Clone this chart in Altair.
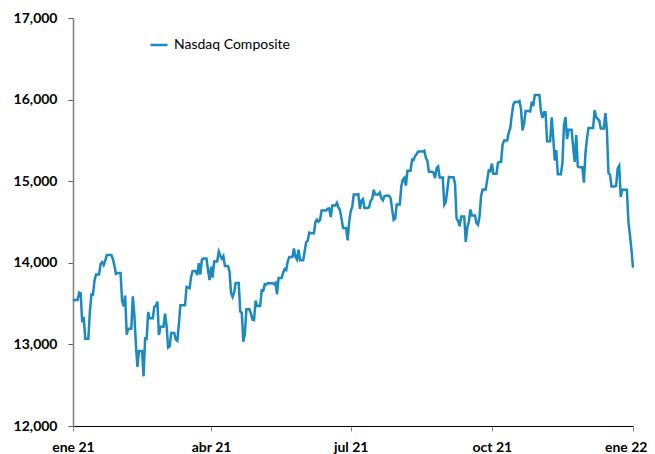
import altair as alt
import pandas as pd

series_name = "Nasdaq Composite"

jan21 = [("2021-01-21", 13530), ("2021-01-22", 13543), ("2021-01-25", 13635), ("2021-01-26", 13626),
         ("2021-01-27", 13271), ("2021-01-28", 13337), ("2021-01-29", 13070)]
feb21 = [("2021-02-01", 13403), ("2021-02-02", 13612), ("2021-02-03", 13610), ("2021-02-04", 13778),
         ("2021-02-05", 13856), ("2021-02-08", 13987), ("2021-02-09", 14007), ("2021-02-10", 13973),
         ("2021-02-11", 14025), ("2021-02-12", 14095), ("2021-02-16", 14047), ("2021-02-17", 13965),
         ("2021-02-18", 13865), ("2021-02-19", 13874), ("2021-02-22", 13533), ("2021-02-23", 13465),
         ("2021-02-24", 13598), ("2021-02-25", 13119), ("2021-02-26", 13192)]
mar21 = [("2021-03-01", 13589), ("2021-03-02", 13359), ("2021-03-03", 12998), ("2021-03-04", 12723),
         ("2021-03-05", 12920), ("2021-03-08", 12609), ("2021-03-09", 13073), ("2021-03-10", 13069),
         ("2021-03-11", 13398), ("2021-03-12", 13320), ("2021-03-15", 13460), ("2021-03-16", 13471),
         ("2021-03-17", 13525), ("2021-03-18", 13116), ("2021-03-19", 13215), ("2021-03-22", 13377),
         ("2021-03-23", 13227), ("2021-03-24", 12962), ("2021-03-25", 12977), ("2021-03-26", 13139),
         ("2021-03-29", 13060), ("2021-03-30", 13045), ("2021-03-31", 13247)]
apr21 = [("2021-04-01", 13480), ("2021-04-05", 13705), ("2021-04-06", 13698), ("2021-04-07", 13688),
         ("2021-04-08", 13829), ("2021-04-09", 13900), ("2021-04-12", 13850), ("2021-04-13", 13996),
         ("2021-04-14", 13857), ("2021-04-15", 14038), ("2021-04-16", 14052), ("2021-04-19", 13914),
         ("2021-04-20", 13787), ("2021-04-21", 13951), ("2021-04-22", 13818), ("2021-04-23", 14016),
         ("2021-04-26", 14138), ("2021-04-27", 14090), ("2021-04-28", 14051), ("2021-04-29", 14082),
         ("2021-04-30", 13962)]
may21 = [("2021-05-03", 13895), ("2021-05-04", 13634), ("2021-05-05", 13582), ("2021-05-06", 13633),
         ("2021-05-07", 13752), ("2021-05-10", 13402), ("2021-05-11", 13389), ("2021-05-12", 13032),
         ("2021-05-13", 13125), ("2021-05-14", 13430), ("2021-05-17", 13379), ("2021-05-18", 13304),
         ("2021-05-19", 13300), ("2021-05-20", 13536), ("2021-05-21", 13471), ("2021-05-24", 13662),
         ("2021-05-25", 13658), ("2021-05-26", 13738), ("2021-05-27", 13736), ("2021-05-28", 13749)]
jun21 = [("2021-06-01", 13737), ("2021-06-02", 13756), ("2021-06-03", 13615), ("2021-06-04", 13815),
         ("2021-06-07", 13882), ("2021-06-08", 13925), ("2021-06-09", 13911), ("2021-06-10", 14021),
         ("2021-06-11", 14070), ("2021-06-14", 14175), ("2021-06-15", 14073), ("2021-06-16", 14040),
         ("2021-06-17", 14162), ("2021-06-18", 14030), ("2021-06-21", 14141), ("2021-06-22", 14254),
         ("2021-06-23", 14272), ("2021-06-24", 14370), ("2021-06-25", 14361), ("2021-06-28", 14500),
         ("2021-06-29", 14528), ("2021-06-30", 14504)]
jul21 = [("2021-07-01", 14523), ("2021-07-02", 14640), ("2021-07-06", 14664), ("2021-07-07", 14666),
         ("2021-07-08", 14560), ("2021-07-09", 14701), ("2021-07-12", 14734), ("2021-07-13", 14678),
         ("2021-07-14", 14645), ("2021-07-15", 14544), ("2021-07-16", 14428), ("2021-07-19", 14275),
         ("2021-07-20", 14499), ("2021-07-21", 14632), ("2021-07-22", 14685), ("2021-07-23", 14837),
         ("2021-07-26", 14840), ("2021-07-27", 14660), ("2021-07-28", 14763), ("2021-07-29", 14779),
         ("2021-07-30", 14673)]
aug21 = [("2021-08-02", 14681), ("2021-08-03", 14762), ("2021-08-04", 14781), ("2021-08-05", 14895),
         ("2021-08-06", 14836), ("2021-08-09", 14860), ("2021-08-10", 14788), ("2021-08-11", 14766),
         ("2021-08-12", 14816), ("2021-08-13", 14823), ("2021-08-16", 14793), ("2021-08-17", 14657),
         ("2021-08-18", 14526), ("2021-08-19", 14542), ("2021-08-20", 14715), ("2021-08-23", 14942),
         ("2021-08-24", 15019), ("2021-08-25", 15042), ("2021-08-26", 14946), ("2021-08-27", 15129),
         ("2021-08-30", 15265), ("2021-08-31", 15259)]
sep21 = [("2021-09-01", 15310), ("2021-09-02", 15331), ("2021-09-03", 15364), ("2021-09-07", 15374),
         ("2021-09-08", 15286), ("2021-09-09", 15248), ("2021-09-10", 15115), ("2021-09-13", 15105),
         ("2021-09-14", 15037), ("2021-09-15", 15161), ("2021-09-16", 15181), ("2021-09-17", 15044),
         ("2021-09-20", 14713), ("2021-09-21", 14746), ("2021-09-22", 14896), ("2021-09-23", 15052),
         ("2021-09-24", 15048), ("2021-09-27", 14970), ("2021-09-28", 14546), ("2021-09-29", 14512),
         ("2021-09-30", 14448)]
oct21 = [("2021-10-01", 14567), ("2021-10-04", 14255), ("2021-10-05", 14433), ("2021-10-06", 14501),
         ("2021-10-07", 14654), ("2021-10-08", 14580), ("2021-10-11", 14486), ("2021-10-12", 14465),
         ("2021-10-13", 14571), ("2021-10-14", 14823), ("2021-10-15", 14897), ("2021-10-18", 15022),
         ("2021-10-19", 15130), ("2021-10-20", 15122), ("2021-10-21", 15216), ("2021-10-22", 15090),
         ("2021-10-25", 15227), ("2021-10-26", 15236), ("2021-10-27", 15236), ("2021-10-28", 15449),
         ("2021-10-29", 15498)]
nov21 = [("2021-11-01", 15595), ("2021-11-02", 15650), ("2021-11-03", 15812), ("2021-11-04", 15940),
         ("2021-11-05", 15971), ("2021-11-08", 15982), ("2021-11-09", 15887), ("2021-11-10", 15623),
         ("2021-11-11", 15704), ("2021-11-12", 15861), ("2021-11-15", 15853), ("2021-11-16", 15974),
         ("2021-11-17", 15922), ("2021-11-18", 16057), ("2021-11-19", 16057), ("2021-11-22", 15854),
         ("2021-11-23", 15775), ("2021-11-24", 15845), ("2021-11-26", 15491), ("2021-11-29", 15782),
         ("2021-11-30", 15538)]
dec21 = [("2021-12-01", 15254), ("2021-12-02", 15381), ("2021-12-03", 15085), ("2021-12-06", 15225),
         ("2021-12-07", 15687), ("2021-12-08", 15786), ("2021-12-09", 15518), ("2021-12-10", 15630),
         ("2021-12-13", 15413), ("2021-12-14", 15237), ("2021-12-15", 15566), ("2021-12-16", 15180),
         ("2021-12-17", 15170), ("2021-12-20", 14981), ("2021-12-21", 15341), ("2021-12-22", 15522),
         ("2021-12-23", 15653), ("2021-12-27", 15871), ("2021-12-28", 15782), ("2021-12-29", 15766),
         ("2021-12-30", 15742), ("2021-12-31", 15645)]
jan22 = [("2022-01-03", 15833), ("2022-01-04", 15623), ("2022-01-05", 15100), ("2022-01-06", 15081),
         ("2022-01-07", 14936), ("2022-01-10", 14943), ("2022-01-11", 15153), ("2022-01-12", 15188),
         ("2022-01-13", 14806), ("2022-01-14", 14894), ("2022-01-18", 14507), ("2022-01-19", 14341),
         ("2022-01-20", 14155), ("2022-01-21", 13940)]

y_ticks = [12000, 13000, 14000, 15000, 16000, 17000]
months_es = ["ene", "feb", "mar", "abr", "may", "jun", "jul", "ago", "sep", "oct", "nov", "dic"]

rows = jan21 + feb21 + mar21 + apr21 + may21 + jun21 + jul21 + aug21 + sep21 + oct21 + nov21 + dec21 + jan22
trade = pd.DataFrame(rows, columns=["date", "value"])
trade["date"] = pd.to_datetime(trade["date"])
cal = pd.date_range("2021-01-21", "2022-01-21", freq="D")
df = trade.set_index("date").reindex(cal).ffill()
df.index.name = "date"
df = df.reset_index()
df["date"] = df["date"].dt.strftime("%Y-%m-%d")
df["serie"] = series_name

x_ticks = [alt.DateTime(year=2021, month=1, date=21, utc=True),
           alt.DateTime(year=2021, month=4, date=21, utc=True),
           alt.DateTime(year=2021, month=7, date=21, utc=True),
           alt.DateTime(year=2021, month=10, date=21, utc=True),
           alt.DateTime(year=2022, month=1, date=21, utc=True)]

month_arr = "[" + ",".join("'%s'" % m for m in months_es) + "]"
label_expr = month_arr + "[utcmonth(datum.value)] + ' ' + utcFormat(datum.value, '%y')"

chart = alt.Chart(df).mark_line(strokeWidth=2.5).encode(
    x=alt.X("date:T",
            scale=alt.Scale(type="utc", domain=[x_ticks[0], x_ticks[-1]]),
            axis=alt.Axis(values=x_ticks, labelExpr=label_expr, title=None, grid=False,
                          domainColor="#000000", domainWidth=1, tickColor="#868686", tickSize=5,
                          labelFont="Lato", labelFontWeight="bold", labelFontSize=14,
                          labelColor="#000000", labelPadding=9, labelFlush=False,
                          labelAlign={"condition": {"test": "datum.index === 1", "value": "right"},
                                      "value": "center"},
                          labelOffset={"condition": {"test": "datum.index === 1", "value": 14},
                                       "value": 0})),
    y=alt.Y("value:Q",
            scale=alt.Scale(domain=[12000, 17000], nice=False, zero=False),
            axis=alt.Axis(values=y_ticks, format=",d", title=None, grid=False,
                          domainColor="#868686", domainWidth=1.6, tickColor="#595959", tickSize=5,
                          labelFont="Lato", labelFontWeight="bold", labelFontSize=14,
                          labelColor="#000000", labelPadding=11)),
    color=alt.Color("serie:N", scale=alt.Scale(range=["#1B8AC0"]),
                    legend=alt.Legend(title=None, orient="none", legendX=76, legendY=17,
                                      symbolType="stroke", symbolStrokeWidth=2.5, symbolSize=289,
                                      labelFont="Lato", labelFontSize=14, labelColor="#000000",
                                      labelOffset=5, padding=0)),
).properties(
    width=560, height=408,
    autosize=alt.AutoSizeParams(type="none"),
    padding={"left": 65, "top": 10, "right": 14, "bottom": 28},
).configure_view(stroke=None)

chart.save("out.html", embed_options={"renderer": "svg", "actions": False})
